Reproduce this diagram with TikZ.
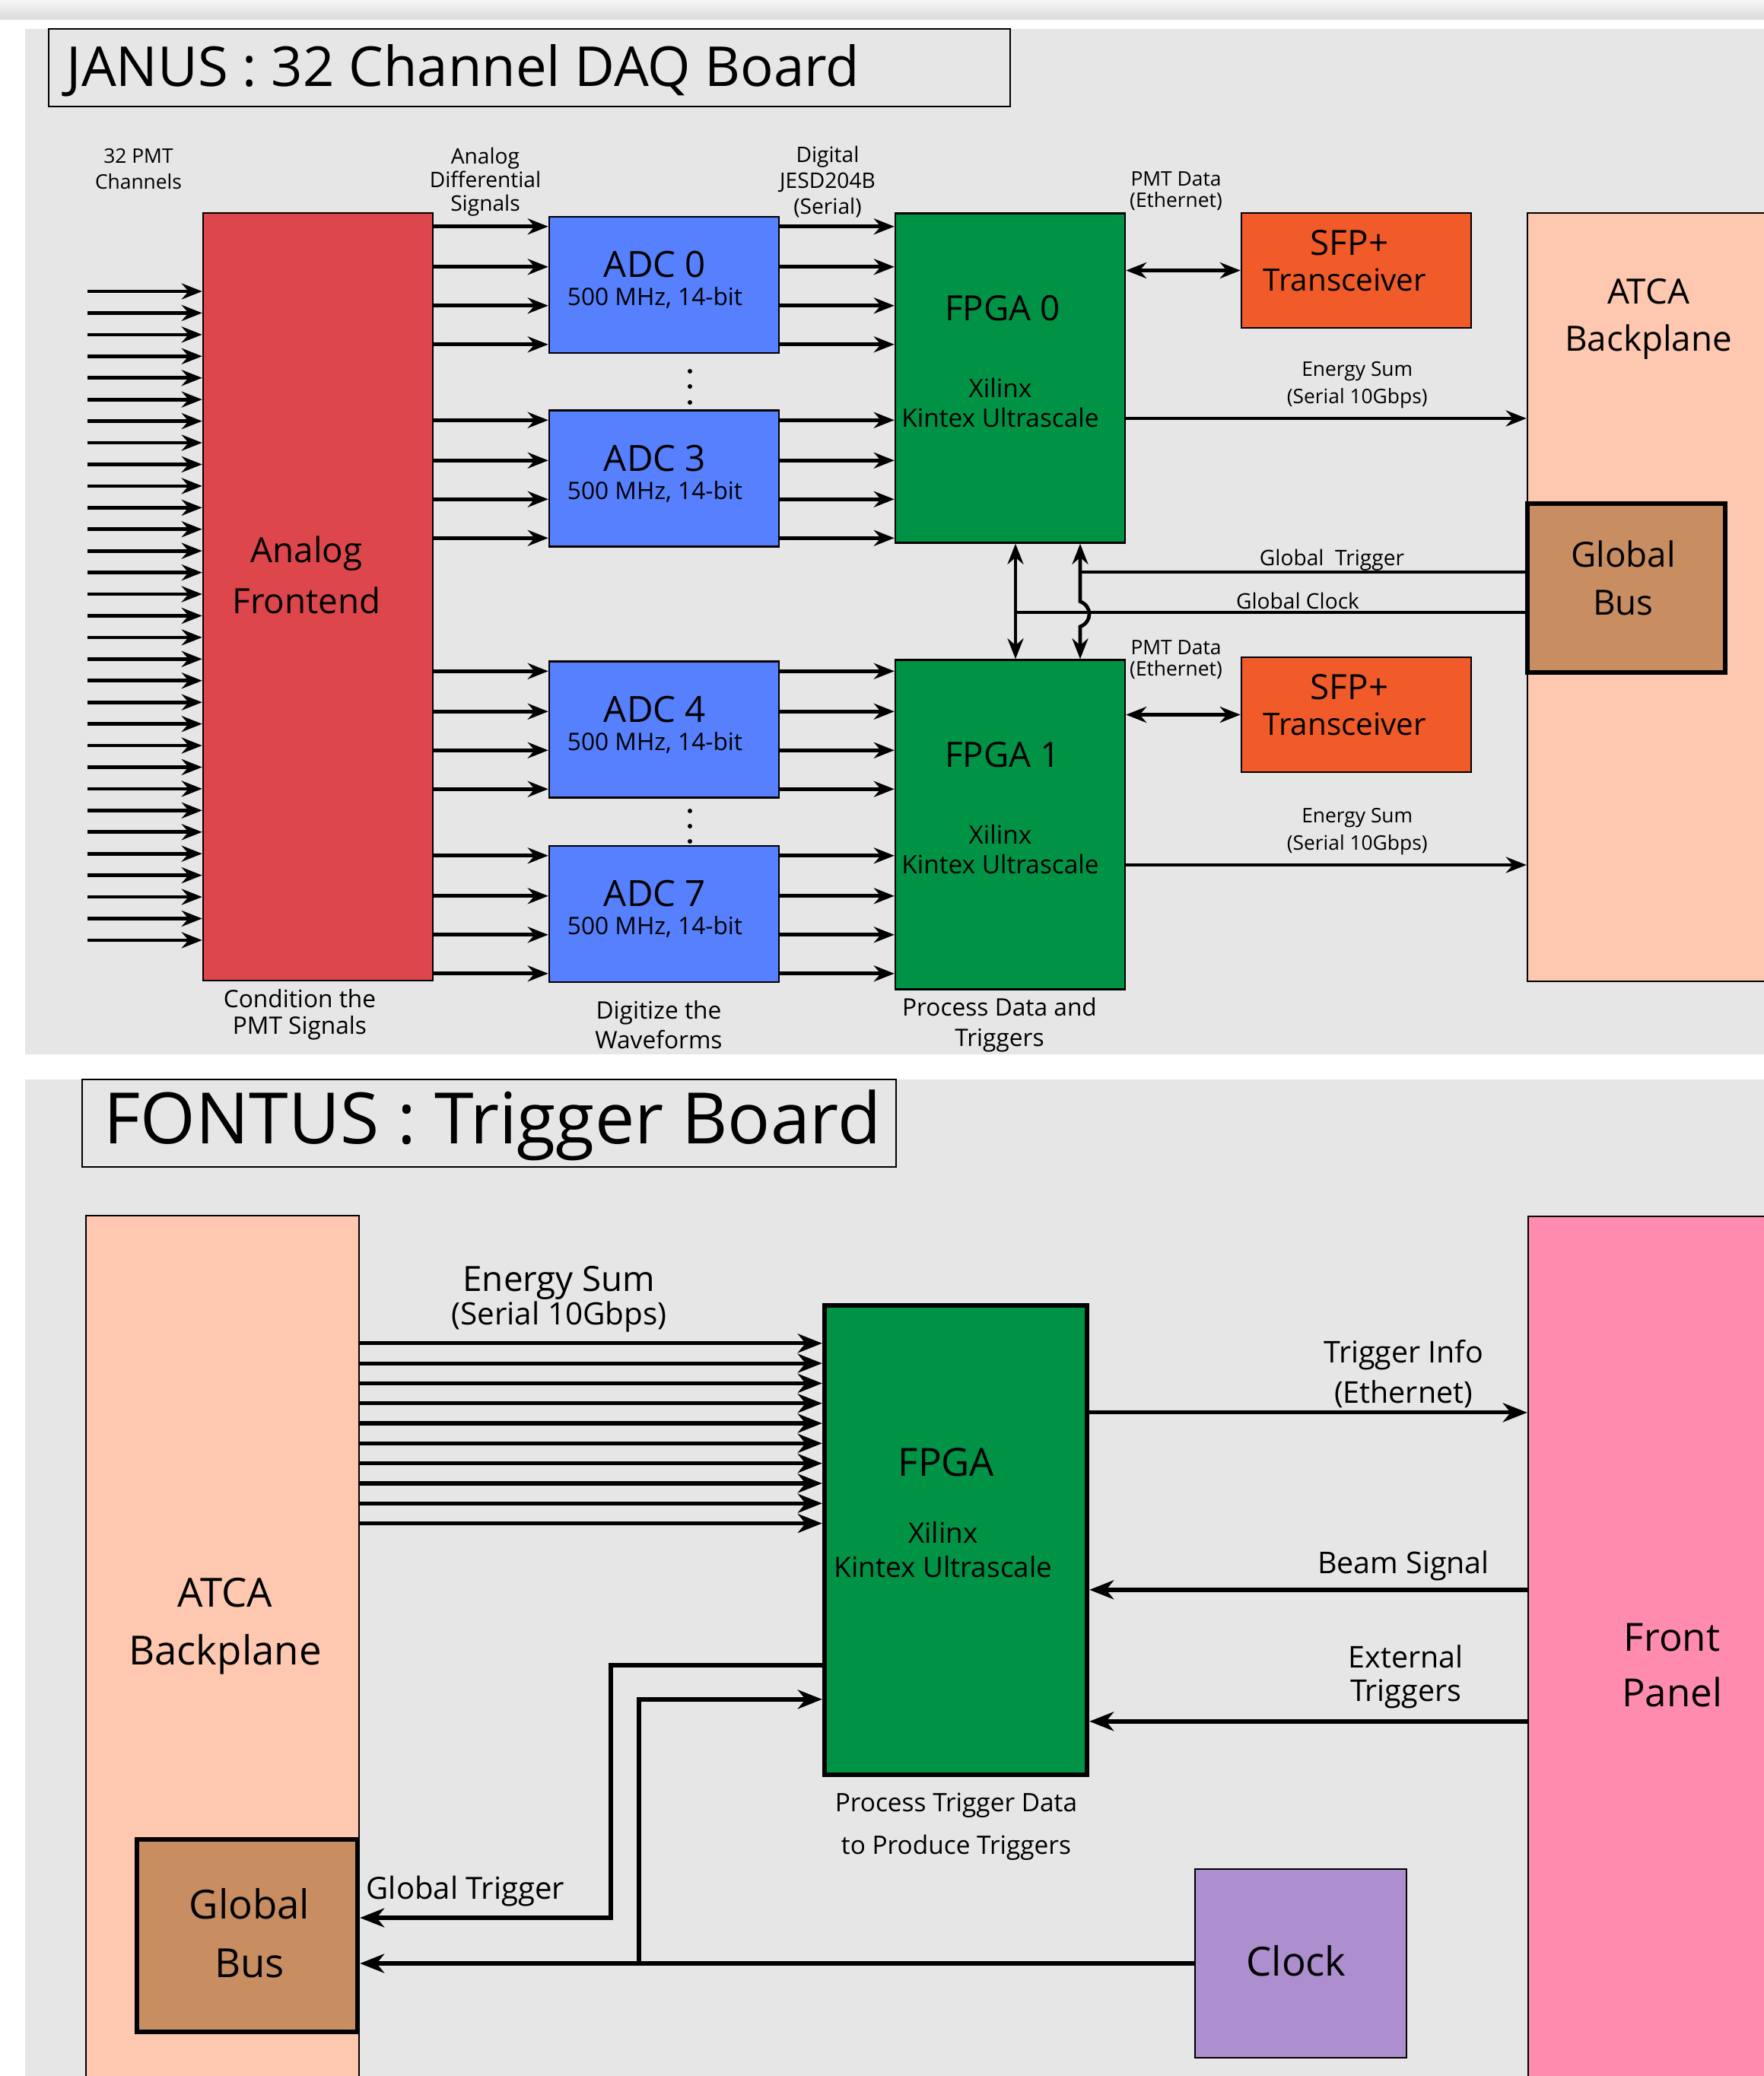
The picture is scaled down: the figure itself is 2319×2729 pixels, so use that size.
\documentclass[tikz,border=0pt]{standalone}
\usepackage{fontspec}
\setmainfont{Open Sans}
\usetikzlibrary{arrows.meta,positioning,calc}
\definecolor{panel}{HTML}{E6E6E6}
\definecolor{afered}{HTML}{DD464A}
\definecolor{adcblue}{HTML}{5680FE}
\definecolor{fpgagreen}{HTML}{009245}
\definecolor{sfporange}{HTML}{F15A29}
\definecolor{atcapeach}{HTML}{FDC8AF}
\definecolor{busbrown}{HTML}{C98D62}
\definecolor{frontpink}{HTML}{FF8CAF}
\definecolor{clockpurple}{HTML}{AD8ECF}
\newcommand{\fsz}[2]{\fontsize{#1}{#2}\selectfont}
\tikzset{
  box/.style={draw, rectangle, line width=0.7pt, inner sep=0pt},
  thickbox/.style={box, line width=1.8pt},
  sz/.style 2 args={minimum width=#1*0.01cm, minimum height=#2*0.01cm},
  lbl/.style={inner sep=0pt, align=center},
  arr/.style={-{Stealth[length=2.7mm, width=2.1mm, inset=0.9mm]}, line width=1.35pt},
  bigarr/.style={-{Stealth[length=3.2mm, width=2.5mm, inset=1mm]}, line width=1.5pt},
  dbl/.style={{Stealth[length=2.7mm, width=2.1mm, inset=0.9mm]}-{Stealth[length=2.7mm, width=2.1mm, inset=0.9mm]}, line width=1.35pt},
  wire/.style={line width=1.35pt}
}

\begin{document}
\begin{tikzpicture}[x=0.01cm, y=-0.01cm]
\useasboundingbox (0,0) rectangle (2319,2729);
\fill[white] (0,0) rectangle (2319,2729);
\shade[top color=white!96!black, bottom color=white!86!black] (0,0) rectangle (2319,25);
\fill[panel] (33,38) rectangle (2319,1386);
\fill[panel] (33,1419) rectangle (2319,2729);

% JANUS
\node[box, sz={1264}{102}] (jtitle) at (696,89) {};
\node[lbl, font=\fsz{20.6}{25}, anchor=base west] (jtitletext) at (87,113) {JANUS : 32 Channel DAQ Board};

\node[box, fill=afered, sz={302}{1009}] (afe) at (418,784.5) {};
\node[lbl, font=\fsz{13}{19}] (afetext) at (403,756) {Analog\\Frontend};

\node[box, fill=atcapeach, sz={352}{1010}] (atca) at (2184,785) {};
\node[lbl, font=\fsz{13}{17.6}] (atcatext) at (2167,419) {ATCA\\Backplane};
\node[thickbox, fill=busbrown, sz={260}{222}] (gbus) at (2138,773) {};
\node[lbl, font=\fsz{13}{18}] (gbustext) at (2134,760) {Global\\Bus};

\foreach \f/\y in {0/497,1/1084}{
  \node[box, fill=fpgagreen, sz={302}{433}] (fpga\f) at (1328,\y) {};
  \node[lbl, font=\fsz{13}{16}] (fpganame\f) at ($(fpga\f.north)+(-10,126)$) {FPGA \f};
  \node[lbl, font=\fsz{9.5}{11}] (fpgachip\f) at ($(fpga\f.north)+(-13,250)$) {Xilinx\\Kintex Ultrascale};
}

\foreach \f/\y in {0/355.5,1/939.5}{
  \node[box, fill=sfporange, sz={302}{151}] (sfp\f) at (1783,\y) {};
  \node[lbl, font=\fsz{13}{15}] (sfpname\f) at ($(sfp\f.north)+(-9,40)$) {SFP+};
  \node[lbl, font=\fsz{11.5}{14}] (sfptype\f) at ($(sfp\f.north)+(-15,89)$) {Transceiver};
  \draw[dbl] (fpga\f.east |- sfp\f) -- (sfp\f);
  \draw[arr] ($(fpga\f.east)+(0,53)$) coordinate (e\f) -- (atca.west |- e\f);
  \node[lbl, font=\fsz{7.5}{10.2}] (esum\f) at ($(e\f)+(304,-44)$) {Energy Sum\\(Serial 10Gbps)};
}
\node[lbl, font=\fsz{7.5}{8}] (pmt0) at (1546,251) {PMT Data\\(Ethernet)};
\node[lbl, font=\fsz{7.5}{8}] (pmt1) at (1546,867) {PMT Data\\(Ethernet)};

\foreach \n/\y/\f in {0/374.5/0,3/629/0,4/959/1,7/1201.5/1}{
  \node[box, fill=adcblue, sz={302}{179}] (adc\n) at (873,\y) {};
  \node[lbl, font=\fsz{13.5}{16}] (adcname\n) at ($(adc\n.north)+(-12,64)$) {ADC \n};
  \node[lbl, font=\fsz{9}{11}] (adcspec\n) at ($(adc\n.north)+(-12,108)$) {500 MHz, 14-bit};
  \foreach \dy in {14,67,118,169}{
    \coordinate (p) at ($(adc\n.north west)+(0,\dy)$);
    \coordinate (q) at ($(adc\n.north east)+(0,\dy)$);
    \draw[arr] (afe.east |- p) -- (p);
    \draw[arr] (q) -- (fpga\f.west |- q);
  }
}
\foreach \y in {488,508,529,1066,1086,1106} \fill (907,\y) circle (3);

\foreach \i in {0,...,30}{
  \coordinate (in\i) at (115,383+\i*28.43);
  \draw[arr] (in\i) -- (afe.west |- in\i);
}

\coordinate (vl) at ($(fpga0.south)+(7,0)$);
\coordinate (vr) at ($(fpga0.south)+(92,0)$);
\coordinate (hopa) at ($(vr)+(0,76)$);
\coordinate (hopb) at ($(vr)+(0,109)$);
\draw[dbl] (vl) -- (vl |- fpga1.north);
\draw[dbl] (vr) -- (hopa) .. controls ($(hopa)+(16,6)$) and ($(hopb)+(16,-6)$) .. (hopb) -- (vr |- fpga1.north);
\draw[wire] ($(gbus.west)+(0,-21)$) coordinate (gt) -- (vr |- gt);
\draw[wire] ($(gbus.west)+(0,32)$) coordinate (gc) -- (vl |- gc);
\node[lbl, font=\fsz{8}{10}] (gtlabel) at (1751,736) {Global\ \ Trigger};
\node[lbl, font=\fsz{8}{10}] (gclabel) at (1706,790) {Global Clock};

\node[lbl, font=\fsz{7.5}{9.7}] (pmtin) at (182,222) {32 PMT\\Channels};
\node[lbl, font=\fsz{8}{8.8}] (analogin) at (638,239) {Analog\\Differential\\Signals};
\node[lbl, font=\fsz{8}{9.6}] (digitalin) at (1088,239) {Digital\\JESD204B\\(Serial)};
\node[lbl, font=\fsz{9}{10}] (afecap) at (394,1334) {Condition the\\PMT Signals};
\node[lbl, font=\fsz{9}{11}] (adccap) at (866,1347) {Digitize the\\Waveforms};
\node[lbl, font=\fsz{9}{11.3}] (fpgacap) at (1314,1347) {Process Data and\\Triggers};

% FONTUS
\node[box, sz={1070}{115}] (ftitle) at (643,1476.5) {};
\node[lbl, font=\fsz{26.5}{30}, anchor=base west] (ftitletext) at (136,1503) {FONTUS : Trigger Board};

\node[box, fill=atcapeach, sz={359}{1202}] (bp) at (292.5,2199) {};
\node[lbl, font=\fsz{15}{21.5}] (bptext) at (296,2138) {ATCA\\Backplane};
\node[thickbox, fill=busbrown, sz={290}{253}] (fbus) at (325,2544.5) {};
\node[lbl, font=\fsz{15}{22}] (fbustext) at (328,2541) {Global\\Bus};
\node[thickbox, fill=fpgagreen, sz={345}{617}] (fpga) at (1256.5,2024.5) {};
\node[lbl, font=\fsz{14.5}{17}] (fpganame) at (1244,1922) {FPGA};
\node[lbl, font=\fsz{10.5}{12.8}] (fpgachip) at (1240,2037.5) {Xilinx\\Kintex Ultrascale};
\node[box, fill=frontpink, sz={351}{1201}] (front) at (2184.5,2199.5) {};
\node[lbl, font=\fsz{14.5}{21}] (fronttext) at (2198,2189) {Front\\Panel};
\node[box, fill=clockpurple, sz={278}{248}] (clock) at (1710,2581) {};
\node[lbl, font=\fsz{15}{18}] (clocktext) at (1704,2578) {Clock};

\foreach \i in {0,...,9}{
  \coordinate (es\i) at ($(fpga.north west)+(0,53+\i*26.3)$);
  \draw[bigarr] (bp.east |- es\i) -- (es\i);
}
\node[lbl, font=\fsz{13}{15}] (fesum) at (735,1686) {Energy Sum};
\node[lbl, font=\fsz{11.5}{14}] (fesumrate) at (735,1731) {(Serial 10Gbps)};

\draw[bigarr] ($(fpga.north east)+(0,144)$) coordinate (ti) -- (front.west |- ti);
\draw[bigarr] ($(fpga.north east)+(0,377)$) coordinate (bs) ++(0,0) (front.west |- bs) -- (bs);
\draw[bigarr] ($(fpga.north east)+(0,550)$) coordinate (xt) ++(0,0) (front.west |- xt) -- (xt);
\node[lbl, font=\fsz{11.2}{14.8}] (tilabel) at (1845,1806) {Trigger Info\\(Ethernet)};
\node[lbl, font=\fsz{11.2}{14}] (bslabel) at (1845,2058) {Beam Signal};
\node[lbl, font=\fsz{11.2}{12.5}] (xtlabel) at (1848,2204) {External\\Triggers};
\node[lbl, font=\fsz{9.5}{16}] (fpgacapf) at (1257,2401) {Process Trigger Data\\to Produce Triggers};

\coordinate (gtk) at (803,2521);
\draw[bigarr] ($(fpga.north west)+(0,476)$) -| (gtk) -- (fbus.east |- gtk);
\node[lbl, font=\fsz{11.4}{14}, anchor=west] (fgtlabel) at (481,2486) {Global Trigger};
\draw[bigarr] (clock.west) -- (fbus.east |- clock.west);
\coordinate (br) at (clock.west -| 840,0);
\draw[bigarr] (br) |- ($(fpga.north west)+(0,521)$);
\end{tikzpicture}
\end{document}
